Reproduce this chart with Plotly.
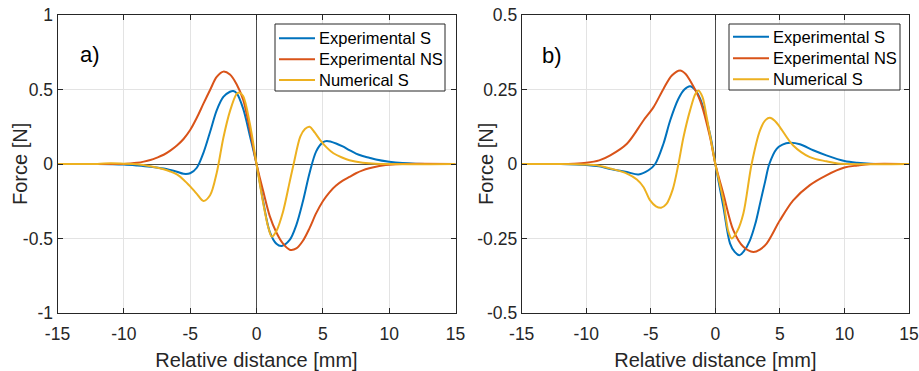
import plotly.graph_objects as go

# ---------------- data: panel a) ----------------
a_exp_s_x = [-15, -12, -10, -9, -8, -7, -6.5, -6, -5.5, -5, -4.5, -4, -3.5, -3, -2.5, -2, -1.75, -1.5, -1, -0.5, 0,
             0.5, 1, 1.5, 1.9, 2.5, 3, 3.5, 4, 4.5, 5, 5.3, 6, 6.5, 7, 7.5, 8, 8.5, 9, 10, 11, 12, 15]
a_exp_s_y = [0, 0, -0.004, -0.01, -0.018, -0.03, -0.04, -0.052, -0.066, -0.062, -0.025, 0.075, 0.215, 0.36, 0.45, 0.485, 0.49, 0.475, 0.37, 0.19, 0,
             -0.25, -0.455, -0.535, -0.55, -0.51, -0.41, -0.25, -0.06, 0.085, 0.145, 0.154, 0.138, 0.118, 0.093, 0.07, 0.054, 0.042, 0.03, 0.015, 0.006, 0.002, 0]

a_exp_ns_x = [-15, -12, -10, -9.5, -9, -8.5, -8, -7.5, -7, -6.5, -6, -5.5, -5, -4.5, -4, -3.5, -3, -2.5, -2, -1.5, -1, -0.5, 0,
              0.5, 1, 1.5, 2, 2.5, 3, 3.5, 4, 4.5, 5, 5.5, 6, 6.5, 7, 7.5, 8, 8.5, 9, 9.5, 10, 11, 15]
a_exp_ns_y = [0, 0, 0, 0.003, 0.008, 0.016, 0.027, 0.043, 0.062, 0.09, 0.124, 0.168, 0.228, 0.31, 0.405, 0.497, 0.584, 0.62, 0.6, 0.535, 0.43, 0.23, 0,
              -0.18, -0.35, -0.46, -0.535, -0.575, -0.567, -0.515, -0.43, -0.33, -0.25, -0.19, -0.145, -0.112, -0.087, -0.062, -0.043, -0.029, -0.018, -0.01, -0.005, 0, 0]

a_num_s_x = [-15, -12, -11, -10, -9, -8, -7, -6.5, -6, -5.5, -5, -4.5, -4, -3.5, -3, -2.5, -2, -1.5, -1.3, -1, -0.5, 0,
             0.5, 0.9, 1.16, 1.5, 2, 2.5, 2.8, 3.3, 3.65, 4, 4.4, 4.8, 5.3, 5.8, 6.4, 7, 8, 9, 15]
a_num_s_y = [0, 0, 0.005, 0.002, -0.002, -0.015, -0.035, -0.05, -0.07, -0.105, -0.15, -0.2, -0.248, -0.21, -0.06, 0.175, 0.355, 0.47, 0.48, 0.455, 0.27, 0,
             -0.26, -0.43, -0.488, -0.45, -0.32, -0.12, 0.0, 0.183, 0.235, 0.25, 0.21, 0.161, 0.11, 0.072, 0.045, 0.025, 0.008, 0.001, 0]

# ---------------- data: panel b) ----------------
b_exp_s_x = [-15, -12, -10, -9, -8.14, -6.85, -5.95, -5.18, -4.66, -4.02, -3.5, -2.86, -2.4, -1.96, -1.55, -1.18, -0.41, 0,
             0.62, 1.14, 1.5, 1.86, 2.25, 2.68, 3.1, 3.46, 3.85, 4.18, 4.75, 5.2, 5.78, 6.55, 7.58, 8.6, 10, 11, 12, 15]
b_exp_s_y = [0, 0, -0.003, -0.008, -0.017, -0.027, -0.035, -0.021, 0.0, 0.068, 0.146, 0.219, 0.25, 0.261, 0.248, 0.219, 0.10, 0,
             -0.144, -0.267, -0.295, -0.306, -0.29, -0.256, -0.2, -0.133, -0.06, 0.0, 0.051, 0.065, 0.071, 0.066, 0.046, 0.029, 0.01, 0.004, 0.001, 0]

b_exp_ns_x = [-15, -12, -11, -10, -9, -8.14, -6.85, -5.57, -4.8, -4.02, -3.37, -2.73, -2.3, -1.96, -1.18, -0.41, 0,
              0.62, 1.39, 2.17, 2.94, 3.45, 3.97, 5.0, 6.03, 7.32, 8.6, 10, 11, 12, 15]
b_exp_ns_y = [0, 0, 0.001, 0.004, 0.012, 0.029, 0.068, 0.146, 0.19, 0.252, 0.297, 0.314, 0.302, 0.28, 0.213, 0.09, 0,
              -0.1, -0.222, -0.278, -0.295, -0.287, -0.267, -0.189, -0.122, -0.071, -0.038, -0.012, -0.005, 0, 0]

b_num_s_x = [-15, -12, -10, -9, -8.14, -6.85, -6.08, -5.57, -5.05, -4.6, -4.2, -3.8, -3.3, -2.86, -2.47, -1.96, -1.55, -1.31, -1.0, -0.67, 0,
             0.62, 1.0, 1.27, 1.7, 2.17, 2.81, 3.46, 3.9, 4.23, 4.6, 5.0, 6.03, 7.32, 8.6, 9.5, 15]
b_num_s_y = [0, 0, -0.002, -0.006, -0.015, -0.032, -0.052, -0.077, -0.122, -0.142, -0.147, -0.135, -0.085, 0.0, 0.09, 0.18, 0.235, 0.247, 0.225, 0.157, 0,
             -0.122, -0.225, -0.25, -0.225, -0.166, 0.0, 0.113, 0.148, 0.155, 0.145, 0.124, 0.062, 0.023, 0.009, 0.002, 0]

series_names = ["Experimental S", "Experimental NS", "Numerical S"]
series_colors = ["#0072BD", "#D95319", "#EDB120"]

x_ticks = [-15, -10, -5, 0, 5, 10, 15]
x_tick_labels = ["-15", "-10", "-5", "0", "5", "10", "15"]
a_y_ticks = [-1, -0.5, 0, 0.5, 1]
a_y_tick_labels = ["-1", "-0.5", "0", "0.5", "1"]
b_y_ticks = [-0.5, -0.25, 0, 0.25, 0.5]
b_y_tick_labels = ["-0.5", "-0.25", "0", "0.25", "0.5"]
panel_labels = ["a)", "b)"]
x_title = "Relative distance [mm]"
y_title = "Force [N]"

FONT = "Liberation Sans, Arial, Helvetica, sans-serif"
INK = "#262626"
W, H = 919, 371
MT, MB = 15, 58
PH = H - MT - MB


def px_x(p):
    return p / W


def px_y(p):
    return (H - MB - p) / PH


fig = go.Figure()

panels = [
    ("x", "y", [(a_exp_s_x, a_exp_s_y), (a_exp_ns_x, a_exp_ns_y), (a_num_s_x, a_num_s_y)]),
    ("x2", "y2", [(b_exp_s_x, b_exp_s_y), (b_exp_ns_x, b_exp_ns_y), (b_num_s_x, b_num_s_y)]),
]
for xa, ya, data in panels:
    for (xs, ys), name, col in zip(data, series_names, series_colors):
        fig.add_trace(go.Scatter(
            x=xs, y=ys, name=name, mode="lines", xaxis=xa, yaxis=ya, showlegend=False,
            line=dict(color=col, width=2, shape="spline", smoothing=0.9),
        ))

axis_common = dict(
    showline=True, linecolor=INK, linewidth=1, mirror="ticks",
    ticks="inside", ticklen=5, tickcolor=INK, tickwidth=1,
    showgrid=True, gridcolor="#e3e3e3", gridwidth=1,
    zeroline=True, zerolinecolor="#4a4a4a", zerolinewidth=1,
    tickfont=dict(family=FONT, size=17.5, color=INK),
    title_font=dict(family=FONT, size=20, color=INK),
    automargin=False,
)

# legend boxes (frame + key lines + texts), pixel layout of each box
legend_boxes = [
    dict(x0=275, x1=445, y0=24, y1=91, lx0=279, lx1=315, tx=316.5, rows=[38.3, 59.3, 80.0]),
    dict(x0=729, x1=900, y0=24, y1=90, lx0=733, lx1=769, tx=771, rows=[36.7, 58.3, 79.3]),
]
shapes = []
annotations = []
for lb in legend_boxes:
    shapes.append(dict(type="rect", xref="paper", yref="paper",
                       x0=px_x(lb["x0"]), x1=px_x(lb["x1"]), y0=px_y(lb["y1"]), y1=px_y(lb["y0"]),
                       line=dict(color=INK, width=1), fillcolor="white", layer="above"))
for lb in legend_boxes:
    for name, col, ry in zip(series_names, series_colors, lb["rows"]):
        shapes.append(dict(type="line", xref="paper", yref="paper",
                           x0=px_x(lb["lx0"]), x1=px_x(lb["lx1"]), y0=px_y(ry), y1=px_y(ry),
                           line=dict(color=col, width=2), layer="above"))
        annotations.append(dict(x=px_x(lb["tx"]), y=px_y(ry), xref="paper", yref="paper",
                                xanchor="left", yanchor="middle", showarrow=False, text=name,
                                font=dict(family=FONT, size=16.5, color="black")))

# y-axis titles placed where the reference has them
for cx in (20, 486):
    annotations.append(dict(x=px_x(cx), y=0.5, xref="paper", yref="paper", text=y_title,
                            textangle=-90, showarrow=False, xanchor="center", yanchor="middle",
                            font=dict(family=FONT, size=20, color=INK)))

annotations += [
    dict(x=-12.53, y=0.738, xref="x", yref="y", text=panel_labels[0], showarrow=False,
         font=dict(family=FONT, size=22, color="black")),
    dict(x=-12.65, y=0.364, xref="x2", yref="y2", text=panel_labels[1], showarrow=False,
         font=dict(family=FONT, size=22, color="black")),
]

fig.update_layout(
    width=W, height=H,
    margin=dict(l=0, r=0, t=MT, b=MB),
    paper_bgcolor="white", plot_bgcolor="white",
    font=dict(family=FONT, color=INK),
    showlegend=False,
    xaxis=dict(domain=[57.5 / W, 455.5 / W], range=[-15, 15], tickvals=x_ticks, ticktext=x_tick_labels,
               title_text=x_title, anchor="y", ticklabelstandoff=5, **axis_common),
    yaxis=dict(domain=[0, 1], range=[-1, 1], tickvals=a_y_ticks, ticktext=a_y_tick_labels,
               anchor="x", **axis_common),
    xaxis2=dict(domain=[521.7 / W, 909 / W], range=[-15, 15], tickvals=x_ticks, ticktext=x_tick_labels,
                title_text=x_title, anchor="y2", ticklabelstandoff=5, **axis_common),
    yaxis2=dict(domain=[0, 1], range=[-0.5, 0.5], tickvals=b_y_ticks, ticktext=b_y_tick_labels,
                anchor="x2", **axis_common),
    shapes=shapes,
    annotations=annotations,
)

fig.write_html("out.html", config={"displayModeBar": False},
               post_script="document.body.style.margin='0';document.body.style.overflow='hidden';")
